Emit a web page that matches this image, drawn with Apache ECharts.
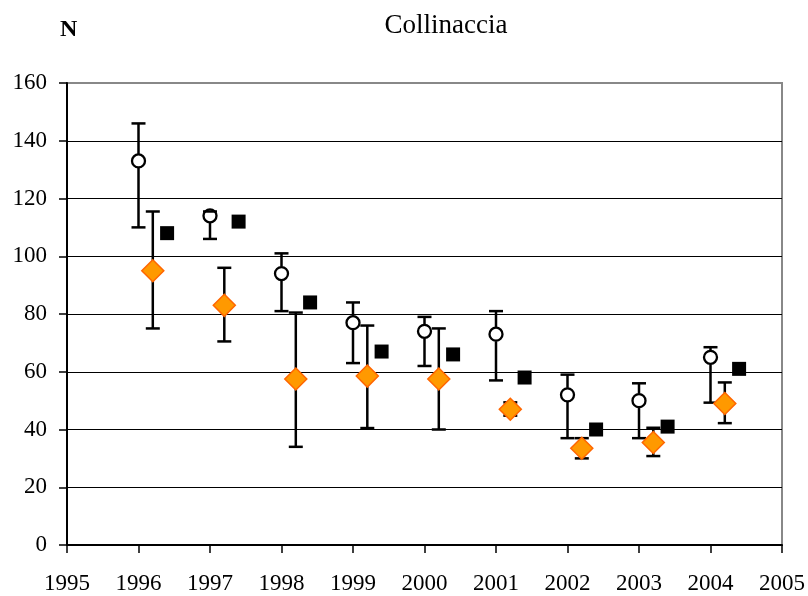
<!DOCTYPE html>
<html><head><meta charset="utf-8">
<script src="https://cdn.jsdelivr.net/npm/echarts@6/dist/echarts.min.js"></script>
<style>html,body{margin:0;padding:0;background:#fff}#c{width:808px;height:596px}</style>
</head><body><div id="c"></div>
<script>
const years = [1996,1997,1998,1999,2000,2001,2002,2003,2004];
const circleVals  = [133,114,94,77,74,73,52,50,65];
const circleLow   = [110,106,81,63,62,57,37,37,49.3];
const circleHigh  = [146,115.5,101,84,79,81,59,56,68.5];
const diamondVals = [95,83,57.5,58.5,57.5,47,33.5,35.5,49];
const diamondLow  = [75,70.5,34,40.5,40,44.8,30,30.8,42.2];
const diamondHigh = [115.5,96,80.5,76,75,49.4,37,40.6,56.3];
const squareVals  = [108,112,84,67,66,58,40,41,61];
const yTicks = [0,20,40,60,80,100,120,140,160];
const diamondOffset = 0.2, squareOffset = 0.4;

const font = '"Liberation Serif","Times New Roman",serif';

function errSeries(xs, vals, lo, hi, gap) {
  return {
    type: 'custom', z: 2,
    data: xs.map((x,i)=>[x, lo[i], hi[i], vals[i]]),
    renderItem: function(params, api){
      const x = api.value(0);
      const pLo = api.coord([x, api.value(1)]);
      const pHi = api.coord([x, api.value(2)]);
      const pC = api.coord([x, api.value(3)]);
      const w = 7;
      const st = {stroke:'#000', lineWidth:2.5};
      const ch = [
        {type:'line', shape:{x1:pLo[0]-w,y1:pLo[1],x2:pLo[0]+w,y2:pLo[1]}, style:st},
        {type:'line', shape:{x1:pHi[0]-w,y1:pHi[1],x2:pHi[0]+w,y2:pHi[1]}, style:st}
      ];
      if (pHi[1] < pC[1]-gap) ch.push({type:'line', shape:{x1:pC[0],y1:pC[1]-gap,x2:pHi[0],y2:pHi[1]}, style:st});
      if (pLo[1] > pC[1]+gap) ch.push({type:'line', shape:{x1:pC[0],y1:pC[1]+gap,x2:pLo[0],y2:pLo[1]}, style:st});
      return {type:'group', children: ch};
    }
  };
}

const chart = echarts.init(document.getElementById('c'), null, {renderer:'canvas'});
chart.setOption({
  animation:false,
  backgroundColor:'#fff',
  title:{text:'Collinaccia', left:441, top:7, textAlign:'center',
    textStyle:{fontFamily:font, fontSize:27, fontWeight:'normal', color:'#000'}},
  graphic:[{type:'text', left:60, top:18, style:{text:'N', font:'bold 24px "Liberation Serif"', fill:'#000'}}],
  grid:{left:67, right:26, top:83, bottom:51, show:true, borderColor:'#888', borderWidth:2},
  xAxis:{type:'value', min:1995, max:2005, interval:1,
    axisLine:{onZero:false, lineStyle:{color:'#000', width:2}},
    axisTick:{show:true, length:8, lineStyle:{color:'#000', width:1.5}},
    axisLabel:{fontFamily:font, fontSize:23, color:'#000', margin:27, formatter:v=>String(v)},
    splitLine:{show:false}},
  yAxis:{type:'value', min:0, max:160, interval:20,
    axisLine:{show:true, lineStyle:{color:'#000', width:2}},
    axisTick:{show:true, length:8, lineStyle:{color:'#000', width:1.5}},
    axisLabel:{fontFamily:font, fontSize:23, color:'#000', margin:20},
    splitLine:{show:true, lineStyle:{color: yTicks.map(t => t===160 ? '#888' : '#000'), width:1.2}}},
  series:[
    errSeries(years, circleVals, circleLow, circleHigh, 7),
    errSeries(years.map(y=>y+diamondOffset), diamondVals, diamondLow, diamondHigh, 0),
    {type:'scatter', z:3, symbol:'circle', symbolSize:13,
      itemStyle:{color:'rgba(255,255,255,0)', borderColor:'#000', borderWidth:2.3, opacity:1},
      data: years.map((y,i)=>[y, circleVals[i]])},
    {type:'scatter', z:3, symbol:'diamond', symbolSize:22,
      itemStyle:{color:'#FF9900', borderColor:'#FF6600', borderWidth:1.5, opacity:1},
      data: years.map((y,i)=>[y+diamondOffset, diamondVals[i]])},
    {type:'scatter', z:3, symbol:'rect', symbolSize:14,
      itemStyle:{color:'#000', opacity:1},
      data: years.map((y,i)=>[y+squareOffset, squareVals[i]])}
  ]
});
</script></body></html>
